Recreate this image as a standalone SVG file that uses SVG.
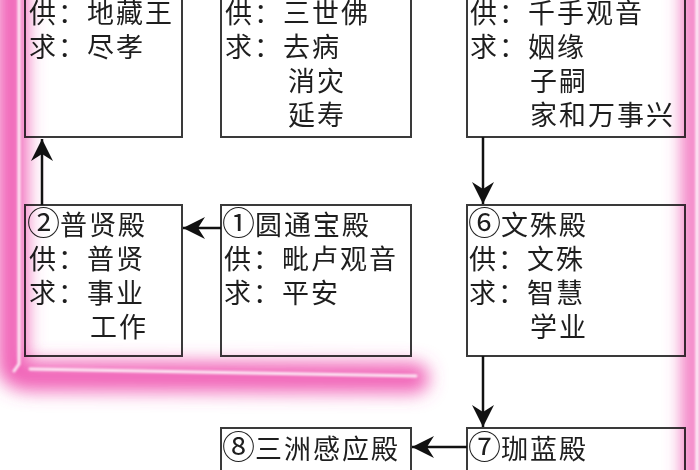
<svg xmlns="http://www.w3.org/2000/svg" width="700" height="470" viewBox="0 0 700 470">
<style>
.box{fill:#fff;stroke:#3a3a3a;stroke-width:2}
.t{font-family:"Noto Sans CJK SC","Noto Sans",sans-serif;font-size:27px;letter-spacing:2px;fill:#1e1e1e}
.n{font-size:33px;letter-spacing:0px}
.c{fill:none;stroke:#111;stroke-width:2.5}
.glow{fill:none;stroke:#ee46aa;stroke-linecap:round;stroke-linejoin:round}
.core{fill:none;stroke:#fff;stroke-linecap:round;stroke-linejoin:round;opacity:0.85}
</style>
<defs>
<marker id="ah" markerUnits="userSpaceOnUse" markerWidth="24" markerHeight="24" viewBox="-22 -12 24 24" refX="0" refY="0" orient="auto">
<path d="M0,0 L-22,-11 L-15,0 L-22,11 Z" fill="#111"/>
</marker>
<filter id="blur" x="-50%" y="-50%" width="200%" height="200%">
<feGaussianBlur stdDeviation="9"/>
</filter>
<filter id="blur2" x="-50%" y="-50%" width="200%" height="200%">
<feGaussianBlur stdDeviation="1"/>
</filter>
</defs>
<rect width="700" height="470" fill="#fff"/>

<g id="n3">
<rect class="box" x="25" y="-45" width="157" height="182"/>
<text class="t" x="29" y="23">供：地藏王</text>
<text class="t" x="29" y="57">求：尽孝</text>
</g>
<g id="n4">
<rect class="box" x="221" y="-45" width="190" height="182"/>
<text class="t" x="225" y="23">供：三世佛</text>
<text class="t" x="225" y="57">求：去病</text>
<text class="t" x="288" y="91">消灾</text>
<text class="t" x="288" y="125">延寿</text>
</g>
<g id="n5">
<rect class="box" x="467" y="-45" width="218" height="182"/>
<text class="t" x="470" y="23">供：千手观音</text>
<text class="t" x="470" y="57">求：姻缘</text>
<text class="t" x="530" y="91">子嗣</text>
<text class="t" x="530" y="125">家和万事兴</text>
</g>
<g id="n2">
<rect class="box" x="25" y="205" width="157" height="151"/>
<text class="t" x="27" y="235"><tspan class="n">②</tspan>普贤殿</text>
<text class="t" x="29" y="269">供：普贤</text>
<text class="t" x="29" y="303">求：事业</text>
<text class="t" x="90" y="337">工作</text>
</g>
<g id="n1">
<rect class="box" x="221" y="205" width="190" height="151"/>
<text class="t" x="222" y="235"><tspan class="n">①</tspan>圆通宝殿</text>
<text class="t" x="224" y="269">供：毗卢观音</text>
<text class="t" x="224" y="303">求：平安</text>
</g>
<g id="n6">
<rect class="box" x="467" y="205" width="218" height="151"/>
<text class="t" x="468" y="235"><tspan class="n">⑥</tspan>文殊殿</text>
<text class="t" x="469" y="269">供：文殊</text>
<text class="t" x="469" y="303">求：智慧</text>
<text class="t" x="530" y="337">学业</text>
</g>
<g id="n8">
<rect class="box" x="221" y="428" width="190" height="80"/>
<text class="t" x="222" y="459"><tspan class="n">⑧</tspan>三洲感应殿</text>
</g>
<g id="n7">
<rect class="box" x="467" y="428" width="218" height="80"/>
<text class="t" x="468" y="459"><tspan class="n">⑦</tspan>珈蓝殿</text>
</g>

<g id="connectors">
<line class="c" x1="221" y1="228" x2="183" y2="228" marker-end="url(#ah)"/>
<line class="c" x1="42" y1="205" x2="42" y2="139" marker-end="url(#ah)"/>
<line class="c" x1="483" y1="137" x2="483" y2="204" marker-end="url(#ah)"/>
<line class="c" x1="483" y1="356" x2="483" y2="427" marker-end="url(#ah)"/>
<line class="c" x1="467" y1="447" x2="412" y2="447" marker-end="url(#ah)"/>
</g>

<g id="highlight">
<g style="mix-blend-mode:multiply" filter="url(#blur)" opacity="0.85">
<path class="glow" stroke-width="30" d="M12,-20 L12,362 Q12,376 30,376 L414,378"/>
<path class="glow" stroke-width="18" d="M692,-20 L692,490"/>
</g>
<g filter="url(#blur2)">
<path class="core" stroke-width="3" d="M19,-10 L19,364 L14,371 M30,369 L416,376"/>
<path class="core" stroke-width="3" d="M697,-10 L697,480"/>
</g>
</g>
</svg>
